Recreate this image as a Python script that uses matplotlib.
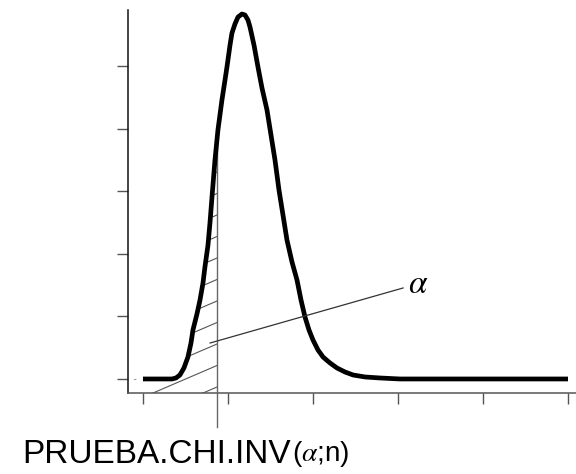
import numpy as np
import matplotlib.pyplot as plt
from matplotlib.patches import Polygon

# --- Curve (x in tick units, y in tick units) ---
curve_x = [0.0, 0.341, 0.388, 0.435, 0.482, 0.529, 0.565, 0.588, 0.635, 0.671,
           0.706, 0.729, 0.765, 0.788, 0.812, 0.847, 0.882, 0.929, 0.965, 0.988,
           1.024, 1.047, 1.082, 1.118, 1.165, 1.2, 1.235, 1.259, 1.306, 1.353,
           1.4, 1.459, 1.506, 1.553, 1.6, 1.647, 1.694, 1.753, 1.812, 1.859,
           1.906, 1.953, 2.0, 2.059, 2.118, 2.2, 2.282, 2.376, 2.471, 2.612,
           2.788, 3.024, 5.0]
curve_y = [0.0, 0.0, 0.016, 0.064, 0.176, 0.351, 0.575, 0.783, 1.038, 1.262,
           1.534, 1.789, 2.141, 2.492, 2.907, 3.498, 3.978, 4.457, 4.776, 4.984,
           5.335, 5.527, 5.671, 5.783, 5.831, 5.815, 5.735, 5.623, 5.335, 4.984,
           4.649, 4.297, 3.898, 3.498, 3.019, 2.620, 2.220, 1.869, 1.581, 1.262,
           0.990, 0.783, 0.623, 0.463, 0.351, 0.256, 0.176, 0.112, 0.064, 0.032,
           0.016, 0.0, 0.0]

x_ticks = [0, 1, 2, 3, 4, 5]
y_ticks = [0, 1, 2, 3, 4, 5]

x_cut = 0.871          # PRUEBA.CHI.INV(alpha;n)
alpha_line = ([0.79, 3.06], [0.575, 1.454])
alpha_label_pos = (3.12, 1.52)

# --- Figure ---
fig = plt.figure(figsize=(5.76, 4.74), dpi=100)
ax = fig.add_axes([127.5 / 576, (474 - 393) / 474, (576 - 127.5) / 576, (393 - 10) / 474])
ax.set_xlim(-0.182, 5.094)
ax.set_ylim(-0.224, 5.895)

for s in ['top', 'right']:
    ax.spines[s].set_visible(False)
ax.spines['left'].set_color('#111111')
ax.spines['left'].set_linewidth(1.1)
ax.spines['bottom'].set_color('#555555')
ax.spines['bottom'].set_linewidth(1.1)

ax.set_xticks(x_ticks)
ax.set_yticks(y_ticks)
ax.set_xticklabels([])
ax.set_yticklabels([])
ax.tick_params(direction='out', length=8, width=1.0, color='#555555')

# --- Hatched area under the curve left of the cut ---
cx = np.array(curve_x)
cy = np.array(curve_y)
y_cut = np.interp(x_cut, cx, cy)
mask = cx < x_cut
verts = [(-0.1, -0.224), (-0.1, 0.0)] + list(zip(cx[mask], cy[mask])) + \
        [(x_cut, y_cut), (x_cut, -0.224)]
clip = Polygon(verts, closed=True, facecolor='none', edgecolor='none')
ax.add_patch(clip)

slope = 0.584
gap = 0.3435
hx = np.array([-0.25, 1.0])
for k in range(-12, 20):
    hy = -0.128 + k * gap + slope * (hx - x_cut)
    ln, = ax.plot(hx, hy, color='#555555', lw=0.8)
    ln.set_clip_path(clip)

# --- Cut line, extends below the axis ---
ax.plot([x_cut, x_cut], [-0.767, y_cut], color='#666666', lw=1.0, clip_on=False, zorder=3)

# --- Density curve ---
ax.plot(curve_x, curve_y, color='black', lw=3.4, solid_joinstyle='round',
        solid_capstyle='butt', zorder=4)

# --- alpha pointer ---
ax.plot(alpha_line[0], alpha_line[1], color='#333333', lw=0.9, zorder=5)
ax.text(alpha_label_pos[0], alpha_label_pos[1], r'$\alpha$', fontsize=24,
        math_fontfamily='stix', ha='left', va='center')

# --- Bottom label ---
t1 = fig.text(22 / 576, (474 - 470) / 474, 'PRUEBA.CHI.INV', fontsize=24,
              family='Liberation Sans', ha='left', va='bottom')
ax.annotate(r'($\alpha$;n)', xy=(1, 0), xycoords=t1, xytext=(1, 1), textcoords='offset points',
            fontsize=20, family='Liberation Sans', math_fontfamily='stix',
            ha='left', va='bottom', annotation_clip=False)

fig.savefig('out.png', dpi=100)
